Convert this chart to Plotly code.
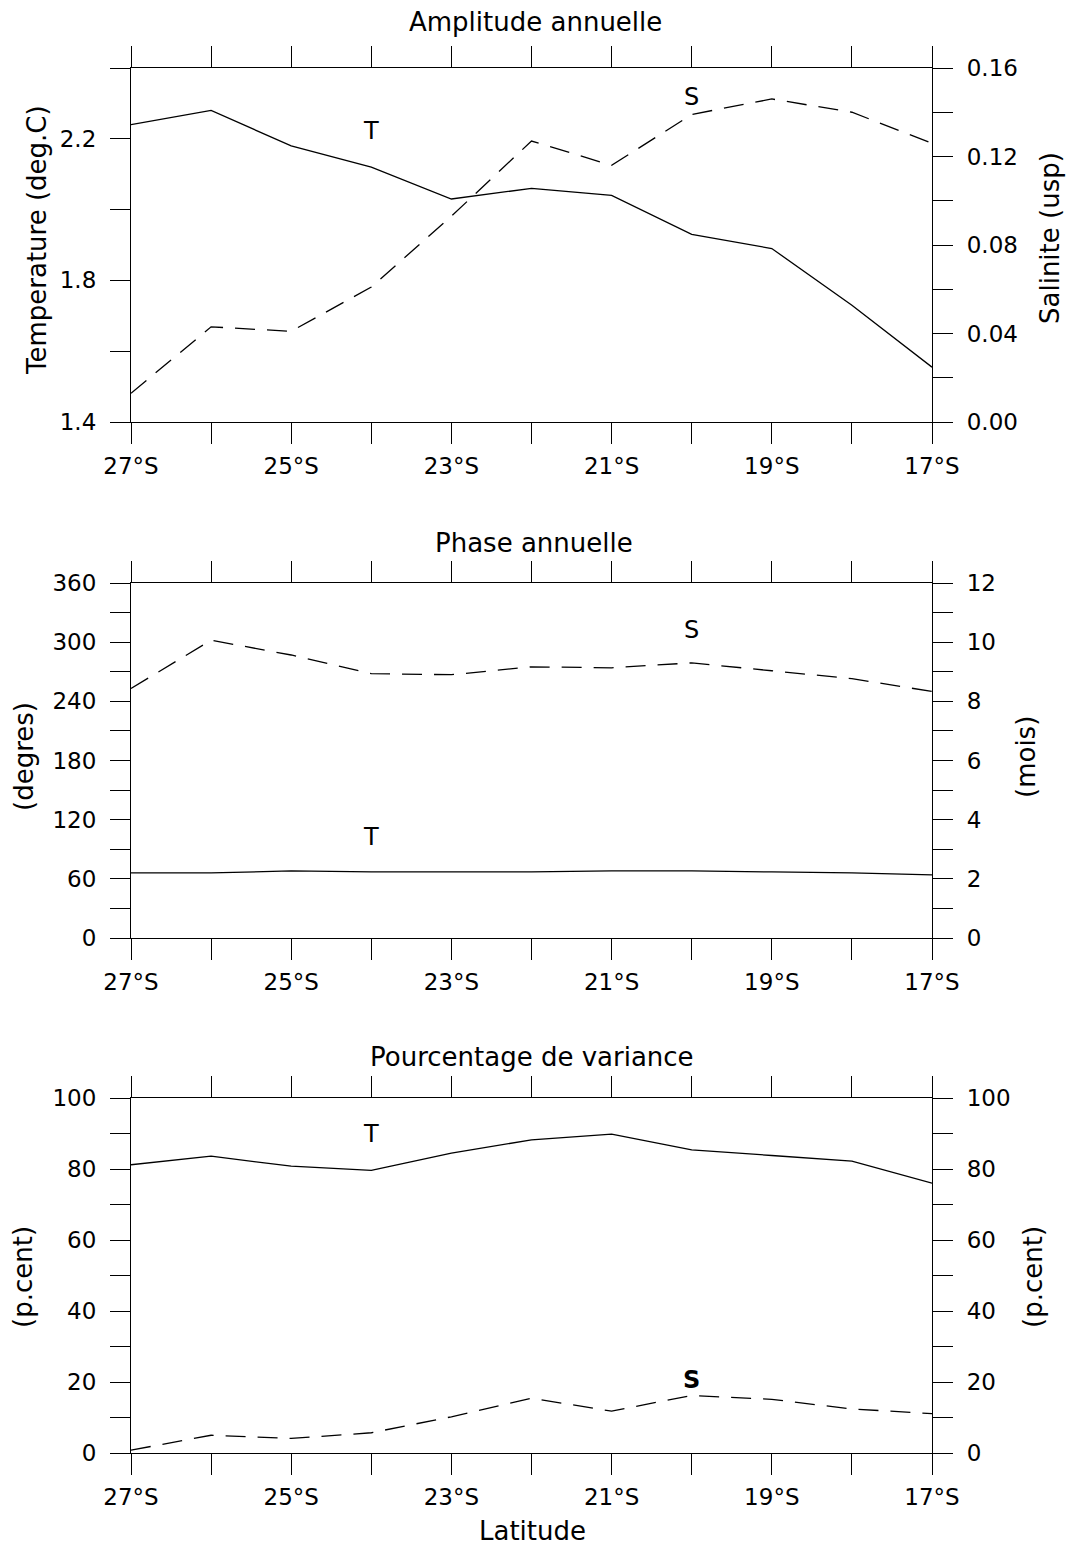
import plotly.graph_objects as go

# ---------------- data ----------------
lat = [-27, -26, -25, -24, -23, -22, -21, -20, -19, -18, -17]
lat_tickvals = [-27, -26, -25, -24, -23, -22, -21, -20, -19, -18, -17]
lat_ticktext = ["27°S", "", "25°S", "", "23°S", "", "21°S", "", "19°S", "", "17°S"]

# Panel 1 : Amplitude annuelle
amp_T = [2.24, 2.28, 2.18, 2.12, 2.03, 2.06, 2.04, 1.93, 1.89, 1.73, 1.555]      # deg C
amp_S = [0.013, 0.043, 0.041, 0.061, 0.093, 0.127, 0.116, 0.139, 0.146, 0.140, 0.126]  # usp

# Panel 2 : Phase annuelle (degres)
pha_T = [66, 66, 68, 67, 67, 67, 68, 68, 67, 66, 64]
pha_S = [253, 302, 287, 268, 267, 275, 274, 279, 271, 263, 250]

# Panel 3 : Pourcentage de variance (p.cent)
var_T = [81.2, 83.6, 80.8, 79.6, 84.5, 88.2, 89.8, 85.4, 83.8, 82.2, 76.0]
var_S = [0.8, 5.0, 4.1, 5.7, 10.2, 15.4, 11.8, 16.2, 15.1, 12.4, 11.1]

amp_left_vals = [1.4, 1.6, 1.8, 2.0, 2.2, 2.4]
amp_left_text = ["1.4", "", "1.8", "", "2.2", ""]
amp_right_vals = [0.0, 0.02, 0.04, 0.06, 0.08, 0.10, 0.12, 0.14, 0.16]
amp_right_text = ["0.00", "", "0.04", "", "0.08", "", "0.12", "", "0.16"]

pha_left_vals = [0, 30, 60, 90, 120, 150, 180, 210, 240, 270, 300, 330, 360]
pha_left_text = ["0", "", "60", "", "120", "", "180", "", "240", "", "300", "", "360"]
pha_right_vals = [0, 1, 2, 3, 4, 5, 6, 7, 8, 9, 10, 11, 12]
pha_right_text = ["0", "", "2", "", "4", "", "6", "", "8", "", "10", "", "12"]

var_vals = [0, 10, 20, 30, 40, 50, 60, 70, 80, 90, 100]
var_text = ["0", "", "20", "", "40", "", "60", "", "80", "", "100"]

# ---------------- layout helpers ----------------
W, H = 1071, 1548
FONT = "DejaVu Sans"
FS = 23      # tick labels
FT = 26      # titles

def px_x(p):
    return p / W

def px_y(p):
    return 1 - p / H

xdom = [px_x(131), px_x(932)]
panels = [(68, 422), (583, 938), (1098, 1453)]

fig = go.Figure()

line_solid = dict(color="black", width=1.3)
line_dash = dict(color="black", width=1.3, dash="20px,12px")

fig.add_trace(go.Scatter(x=lat, y=amp_T, mode="lines", line=line_solid, xaxis="x", yaxis="y"))
fig.add_trace(go.Scatter(x=lat, y=amp_S, mode="lines", line=line_dash, xaxis="x", yaxis="y2"))
fig.add_trace(go.Scatter(x=lat, y=pha_T, mode="lines", line=line_solid, xaxis="x2", yaxis="y3"))
# phase of S drawn against the right (months) axis: 30 degrees per month
fig.add_trace(go.Scatter(x=lat, y=[v / 30.0 for v in pha_S], mode="lines", line=line_dash,
                         xaxis="x2", yaxis="y4"))
fig.add_trace(go.Scatter(x=lat, y=var_T, mode="lines", line=line_solid, xaxis="x3", yaxis="y5"))
fig.add_trace(go.Scatter(x=lat, y=var_S, mode="lines", line=line_dash, xaxis="x3", yaxis="y6"))

tickfont = dict(family=FONT, size=FS, color="black")

def xaxis_cfg(anchor):
    return dict(domain=xdom, anchor=anchor, range=[-27, -17], automargin=False,
                tickmode="array", tickvals=lat_tickvals, ticktext=lat_ticktext,
                ticks="outside", ticklen=21, tickwidth=1.2, tickcolor="black",
                showline=True, linecolor="black", linewidth=1.2, mirror="ticks",
                showgrid=False, zeroline=False, tickfont=tickfont, ticklabelstandoff=2)

def yaxis_cfg(dom, rng, vals, text, side, anchor, overlaying=None):
    d = dict(domain=dom, range=rng, tickmode="array", tickvals=vals, ticktext=text,
             ticks="outside", ticklen=20, tickwidth=1.2, tickcolor="black", automargin=False,
             showline=True, linecolor="black", linewidth=1.2, side=side,
             showgrid=False, zeroline=False, tickfont=tickfont, anchor=anchor,
             ticklabelstandoff=9)
    if overlaying:
        d["overlaying"] = overlaying
    return d

doms = [[px_y(b), px_y(t)] for (t, b) in panels]

fig.update_layout(
    width=W, height=H,
    margin=dict(l=0, r=0, t=0, b=0, pad=0),
    paper_bgcolor="white", plot_bgcolor="white",
    showlegend=False,
    font=dict(family=FONT, size=FS, color="black"),
    xaxis=xaxis_cfg("y"),
    xaxis2=xaxis_cfg("y3"),
    xaxis3=xaxis_cfg("y5"),
    yaxis=yaxis_cfg(doms[0], [1.4, 2.4], amp_left_vals, amp_left_text, "left", "x"),
    yaxis2=yaxis_cfg(doms[0], [0, 0.16], amp_right_vals, amp_right_text, "right", "x", "y"),
    yaxis3=yaxis_cfg(doms[1], [0, 360], pha_left_vals, pha_left_text, "left", "x2"),
    yaxis4=yaxis_cfg(doms[1], [0, 12], pha_right_vals, pha_right_text, "right", "x2", "y3"),
    yaxis5=yaxis_cfg(doms[2], [0, 100], var_vals, var_text, "left", "x3"),
    yaxis6=yaxis_cfg(doms[2], [0, 100], var_vals, var_text, "right", "x3", "y5"),
)

ann = []

def paper_text(text, xp, yp, angle=0, size=FT, bold=False):
    ann.append(dict(text=("<b>%s</b>" % text) if bold else text,
                    x=px_x(xp), y=px_y(yp), xref="paper", yref="paper",
                    xanchor="center", yanchor="middle", showarrow=False,
                    textangle=angle, font=dict(family=FONT, size=size, color="black")))

# titles
paper_text("Amplitude annuelle", 535, 22)
paper_text("Phase annuelle", 534, 543)
paper_text("Pourcentage de variance", 532, 1057)
paper_text("Latitude", 532, 1531)

# axis titles
paper_text("Temperature (deg.C)", 37, 240, angle=-90)
paper_text("Salinite (usp)", 1050, 238, angle=-90)
paper_text("(degres)", 24, 757, angle=-90)
paper_text("(mois)", 1026, 757, angle=-90)
paper_text("(p.cent)", 23, 1277, angle=-90)
paper_text("(p.cent)", 1033, 1277, angle=-90)

# curve labels (data coordinates)
def data_text(text, x, y, xr, yr, bold=False):
    ann.append(dict(text=("<b>%s</b>" % text) if bold else text, x=x, y=y, xref=xr, yref=yr,
                    xanchor="center", yanchor="middle", showarrow=False,
                    font=dict(family=FONT, size=24, color="black")))

data_text("T", -24, 2.222, "x", "y")
data_text("S", -20, 2.318, "x", "y")
data_text("T", -24, 102, "x2", "y3")
data_text("S", -20, 312, "x2", "y3")
data_text("T", -24, 90, "x3", "y5")
data_text("S", -20, 20.6, "x3", "y5", bold=True)

fig.update_layout(annotations=ann)

fig.write_html("out.html")
